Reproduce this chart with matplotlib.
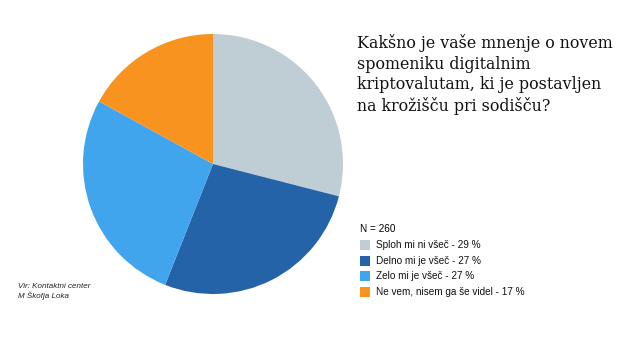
import matplotlib
matplotlib.use("Agg")
import matplotlib.pyplot as plt
from matplotlib.patches import Rectangle

labels = ["Sploh mi ni všeč", "Delno mi je všeč", "Zelo mi je všeč", "Ne vem, nisem ga še videl"]
values = [29, 27, 27, 17]
colors = ["#BFCDD4", "#2563A8", "#41A5EE", "#F7931E"]
n_total = 260

title = "Kakšno je vaše mnenje o novem\nspomeniku digitalnim\nkriptovalutam, ki je postavljen\nna krožišču pri sodišču?"
source = "Vir: Kontaktni center\nM Škofja Loka"

W, H = 640, 360
fig = plt.figure(figsize=(W / 100, H / 100), dpi=100)
fig.patch.set_facecolor("white")

# pie: centre ~ (213,164), radius ~130 px
ax = fig.add_axes([83 / W, (H - 294) / H, 260 / W, 260 / H])
ax.pie(values, colors=colors, startangle=90, counterclock=False,
       wedgeprops=dict(edgecolor="none", linewidth=0))
ax.set_xlim(-1, 1)
ax.set_ylim(-1, 1)
ax.set_aspect("equal")
ax.axis("off")

fig.text(357 / W, 1 - 34 / H, title, family="DejaVu Serif", fontsize=11.4,
         va="top", ha="left", linespacing=1.28, color="#111111")

# legend
fig.text(360 / W, 1 - 229 / H, f"N = {n_total}", family="Liberation Sans",
         fontsize=7.2, va="center", ha="left")
row_y = [245, 261, 276, 292]
for lab, val, col, y in zip(labels, values, colors, row_y):
    fig.patches.append(Rectangle((360 / W, 1 - (y + 5) / H), 10 / W, 10 / H,
                                 transform=fig.transFigure, facecolor=col,
                                 edgecolor="none"))
    fig.text(376 / W, 1 - y / H, f"{lab} - {val} %", family="Liberation Sans",
             fontsize=7.2, va="center", ha="left", color="#111111")

fig.text(18 / W, 1 - 283 / H, source, family="Liberation Sans", style="italic",
         fontsize=5.8, va="top", ha="left", linespacing=1.25, color="#222222")

fig.savefig("out.png", dpi=100, facecolor="white")
